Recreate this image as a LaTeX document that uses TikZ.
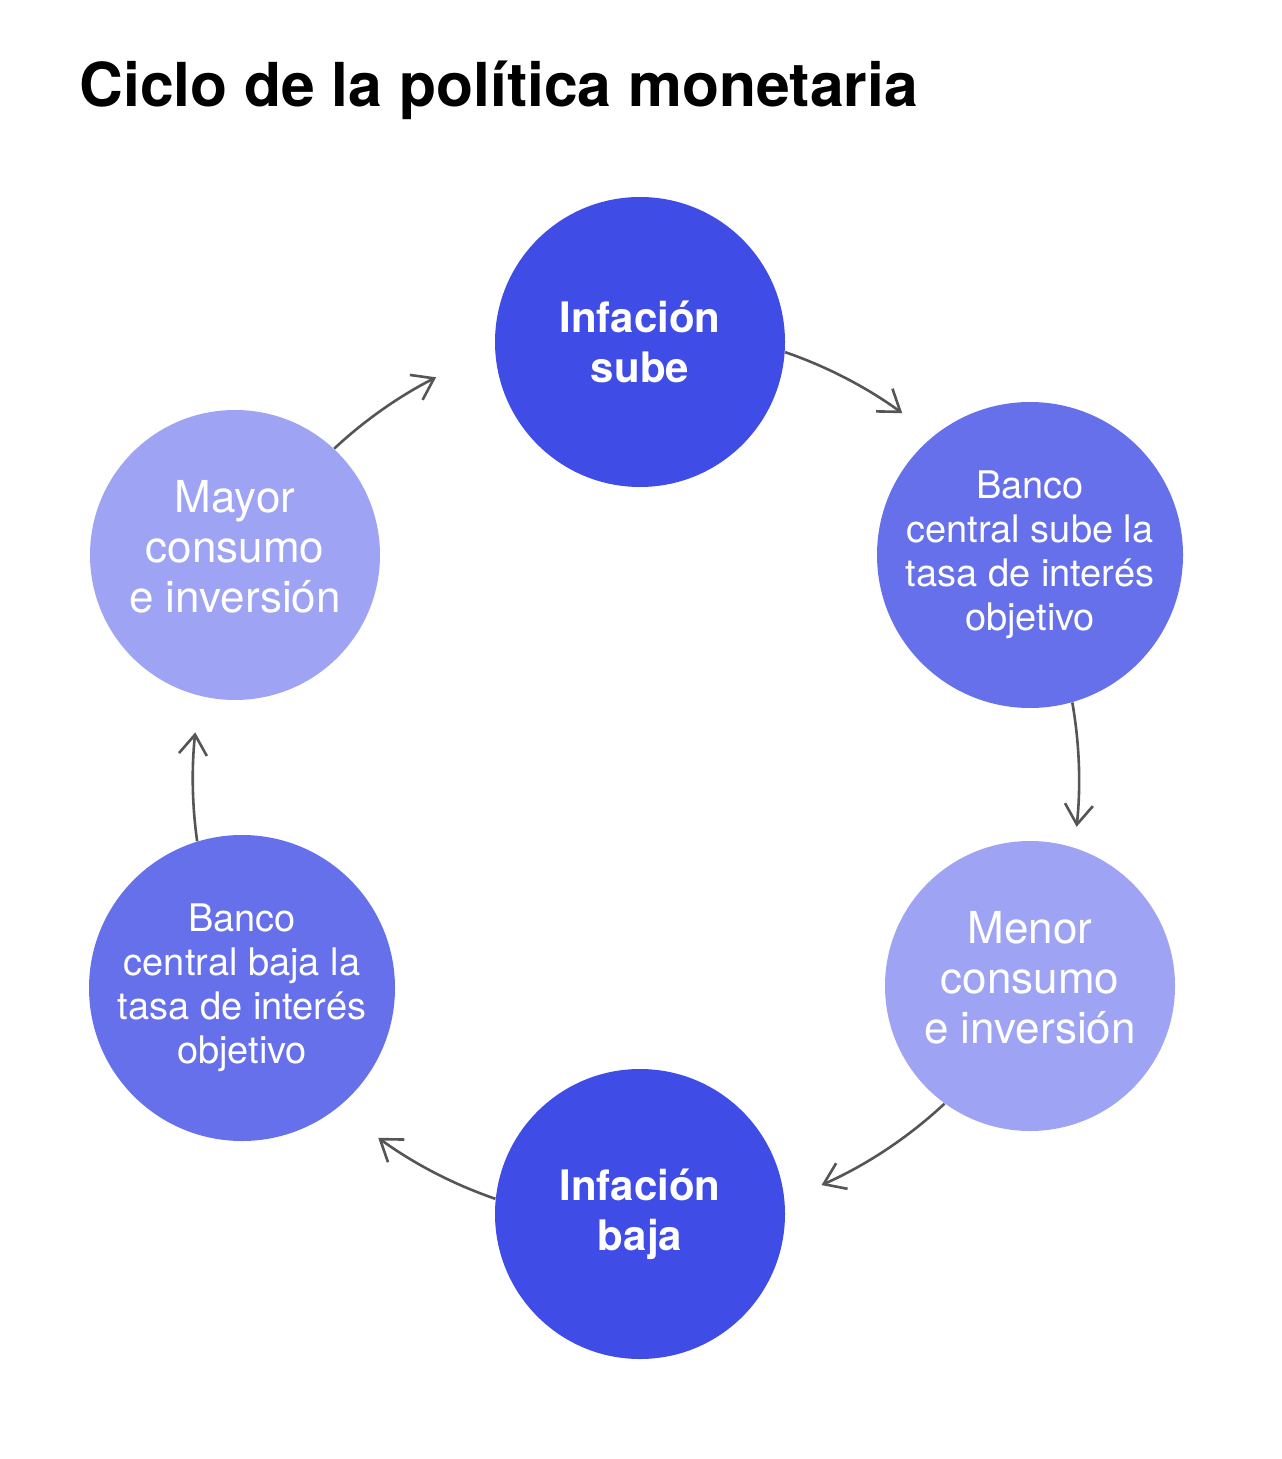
\documentclass[tikz,border=0pt]{standalone}
\usepackage{fontspec}
\setmainfont{TeX Gyre Heros}
\usetikzlibrary{arrows.meta}
\definecolor{azulA}{HTML}{404CE6}
\definecolor{azulB}{HTML}{6670EB}
\definecolor{azulC}{HTML}{9EA4F3}
\definecolor{gris}{HTML}{555555}
\begin{document}
\begin{tikzpicture}[x=0.5pt,y=-0.5pt,
	circ/.style={circle,inner sep=0pt,text=white,align=center,minimum size=145pt},
	fuerte/.style={circ,fill=azulA,font=\fontsize{21}{25}\selectfont\bfseries},
	medio/.style={circ,fill=azulB,minimum size=153pt,font=\fontsize{19}{22}\selectfont},
	suave/.style={circ,fill=azulC,text depth=9pt,font=\fontsize{22}{25}\selectfont},
	flecha/.style={draw=gris,line width=1.3pt,-{Straight Barb[length=10pt,width=14pt]}}]
		\useasboundingbox (0,0) rectangle (1281,1459);
		\node[anchor=base west,inner sep=0pt,font=\fontsize{30.3}{36}\selectfont\bfseries] (titulo) at (79,107) {Ciclo de la política monetaria};
		% circulos
		\node[fuerte] (sube) at (640,342) {Infación\\sube};
		\node[medio] (bsube) at (1030,555) {Banco\\central sube la\\tasa de interés\\objetivo};
		\node[suave] (menor) at (1030,986) {Menor\\consumo\\e inversión};
		\node[fuerte] (baja) at (640,1214) {Infación\\baja};
		\node[medio] (bbaja) at (242,988) {Banco\\central baja la\\tasa de interés\\objetivo};
		\node[suave] (mayor) at (235,555) {Mayor\\consumo\\e inversión};
		% flechas (arcos de radio 447)
		\draw[flecha] (sube.-4) arc[start angle=-71, end angle=-54, radius=447];
		\draw[flecha] (bsube.-74) arc[start angle=-10, end angle=6, radius=447];
		\draw[flecha] (menor.-126) arc[start angle=47, end angle=66, radius=447];
		\draw[flecha] (baja.174) arc[start angle=109, end angle=126, radius=447];
		\draw[flecha] (bbaja.107) arc[start angle=172, end angle=186, radius=447];
		\draw[flecha] (mayor.47) arc[start angle=227, end angle=243, radius=447];
\end{tikzpicture}
\end{document}
